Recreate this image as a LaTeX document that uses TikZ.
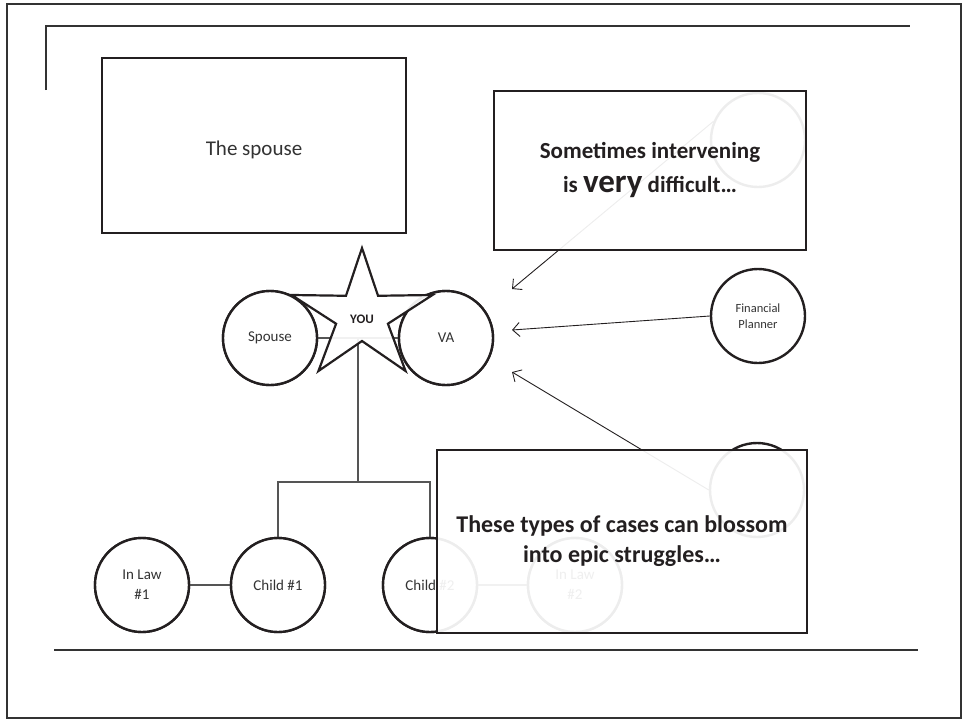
\documentclass[tikz,border=0pt]{standalone}
\usepackage{fontspec}
\setmainfont{Carlito}
\usetikzlibrary{shapes.geometric,arrows.meta}

\definecolor{ink}{HTML}{231F20}
\definecolor{textgray}{HTML}{333333}
\definecolor{linegray}{HTML}{555555}

\tikzset{
  person/.style={circle, draw=ink, line width=2.4pt, fill=white,
    minimum size=94pt, inner sep=0pt, align=center, text=textgray,
    font=\fontsize{15}{20}\selectfont},
  smallperson/.style={person, font=\fontsize{12.5}{16}\selectfont},
  link/.style={draw=linegray, line width=1.2pt},
  pointer/.style={draw=ink, line width=0.9pt,
    -{Straight Barb[length=7pt,width=14pt,line width=0.9pt]}},
  panel/.style={rectangle, draw=ink, line width=2.4pt, fill=white,
    inner sep=0pt, align=center, text=ink},
  veil/.style={panel, fill opacity=0.92, text opacity=1, draw opacity=1},
  frame/.style={draw=textgray, line width=1.8pt},
}

\begin{document}
\begin{tikzpicture}[x=1pt, y=-1pt]
  \useasboundingbox (0,0) rectangle (966,721);

  % page frame and header / footer rules
  \draw[frame] (7,4) rectangle (961,718);
  \draw[frame] (46,90) -- (46,26) -- (910,26);
  \draw[frame] (54,650) -- (918,650);

  % family members
  \coordinate (marriage) at (358,338);
  \coordinate (fork) at (358,482);
  \node[person] (spouse) at (270,338) {Spouse};
  \node[person] (va) at (446,338) {VA};
  \node[person] (inlaw1) at (142,585) {In Law\\\#1};
  \node[person] (child1) at (278,585) {Child \#1};
  \node[person] (child2) at (430,585) {Child \#2};
  \node[person] (inlaw2) at (575,585) {In Law\\\#2};

  % family tree connectors
  \draw[link] (spouse.east) -- (va.west);
  \draw[link] (marriage) -- (fork);
  \draw[link] (fork) -| (child1.north);
  \draw[link] (fork) -| (child2.north);
  \draw[link] (inlaw1.east) -- (child1.west);
  \draw[link] (child2.east) -- (inlaw2.west);

  % circles drawn again over their connectors
  \node[person] at (spouse) {Spouse};
  \node[person] at (va) {VA};
  \node[person] at (inlaw1) {In Law\\\#1};
  \node[person] at (child1) {Child \#1};
  \node[person] at (child2) {Child \#2};
  \node[person] at (inlaw2) {In Law\\\#2};

  % advisers around the VA
  \node[smallperson] (trust) at (758,140) {};
  \node[smallperson] (planner) at (758,316) {Financial\\Planner};
  \node[smallperson] (life) at (757,490) {};

  % the star in the middle
  \node[star, star points=5, star point ratio=2.72, minimum size=136pt,
        inner sep=0pt, xscale=1.09, draw=ink, line width=2.2pt,
        fill=white, fill opacity=0.92] (you) at (362,316) {};
  \node[font=\bfseries\fontsize{13}{15}\selectfont, text=ink]
        (youlabel) at (362,319) {YOU};

  % arrows pointing at the VA
  \coordinate (tipA) at (512,289);
  \coordinate (tipB) at (512,330);
  \coordinate (tipC) at (512,372);
  \draw[pointer] (trust.157) -- (tipA);
  \draw[pointer] (planner.west) -- (tipB);
  \draw[pointer] (life.west) -- (tipC);

  % callout panels
  \node[panel, minimum width=304pt, minimum height=175pt]
        (spousebox) at (254,145.5) {};
  \node[font=\fontsize{21}{26}\selectfont, text=textgray]
        (spouselabel) at (254,150) {The spouse};

  \node[veil, minimum width=312pt, minimum height=159pt,
        font=\bfseries\fontsize{23}{34}\selectfont]
        (hardbox) at (650,170.5)
        {Sometimes intervening\\is {\fontsize{33}{34}\selectfont very} difficult…};

  \node[veil, minimum width=370pt, minimum height=183pt,
        font=\bfseries\fontsize{24}{30}\selectfont]
        (epicbox) at (622,541.5)
        {These types of cases can blossom\\into epic struggles…};
\end{tikzpicture}
\end{document}
